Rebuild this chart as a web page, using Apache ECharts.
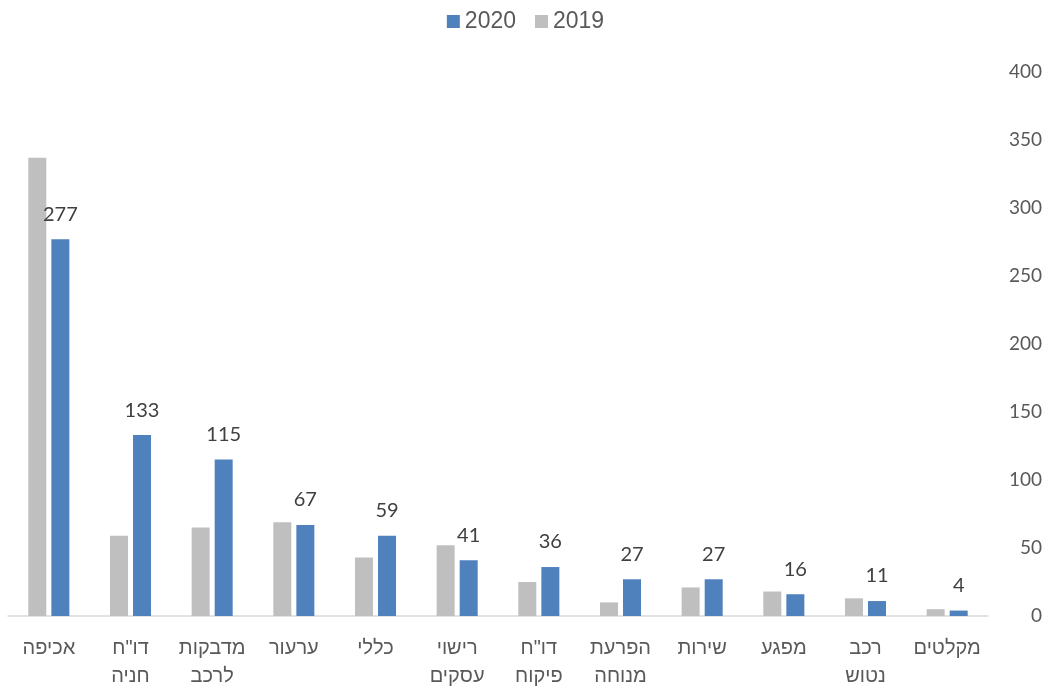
<!DOCTYPE html>
<html>
<head>
<meta charset="utf-8">
<script src="https://cdn.jsdelivr.net/npm/echarts@6/dist/echarts.min.js"></script>
<style>html,body{margin:0;padding:0;background:#fff}#c{width:1051px;height:688px}</style>
</head>
<body>
<div id="c"></div>
<script>
var categories = ['אכיפה', 'דו"ח\nחניה', 'מדבקות\nלרכב', 'ערעור', 'כללי', 'רישוי\nעסקים', 'דו"ח\nפיקוח', 'הפרעת\nמנוחה', 'שירות', 'מפגע', 'רכב\nנטוש', 'מקלטים'];
var values2020 = [277, 133, 115, 67, 59, 41, 36, 27, 27, 16, 11, 4];
var values2019 = [337, 59, 65, 69, 43, 52, 25, 10, 21, 18, 13, 5];
var yTicks = { min: 0, max: 400, interval: 50 };

var chart = echarts.init(document.getElementById('c'));
chart.setOption({
  animation: false,
  backgroundColor: '#ffffff',
  legend: {
    data: ['2020', '2019'],
    top: 5,
    left: 'center',
    itemWidth: 13,
    itemHeight: 13,
    itemGap: 19,
    icon: 'rect',
    textStyle: { fontFamily: 'Liberation Sans', fontSize: 23, color: '#595959' }
  },
  grid: { left: 8, right: 63, top: 72, bottom: 72, containLabel: false, outerBoundsMode: 'none' },
  xAxis: {
    type: 'category',
    data: categories,
    axisLine: { show: true, lineStyle: { color: '#d9d9d9', width: 1.5 } },
    axisTick: { show: false },
    axisLabel: {
      interval: 0,
      margin: 18,
      fontFamily: 'Liberation Sans',
      fontSize: 20,
      lineHeight: 28,
      color: '#595959'
    }
  },
  yAxis: {
    type: 'value',
    position: 'right',
    min: yTicks.min,
    max: yTicks.max,
    interval: yTicks.interval,
    axisLine: { show: false },
    axisTick: { show: false },
    splitLine: { show: false },
    axisLabel: { margin: 20, align: 'right', fontFamily: 'Lato', fontSize: 19, color: '#595959',
      padding: [0, -34, 0, 0] }
  },
  series: [
    {
      name: '2019',
      type: 'bar',
      data: values2019,
      barWidth: 18,
      barGap: '28%',
      itemStyle: { color: '#bfbfbf' }
    },
    {
      name: '2020',
      type: 'bar',
      data: values2020,
      barWidth: 18,
      barGap: '28%',
      itemStyle: { color: '#4f81bd' },
      label: {
        show: true,
        position: 'top',
        distance: 15,
        fontFamily: 'Lato',
        fontSize: 20,
        color: '#404040'
      }
    }
  ]
});
</script>
</body>
</html>
